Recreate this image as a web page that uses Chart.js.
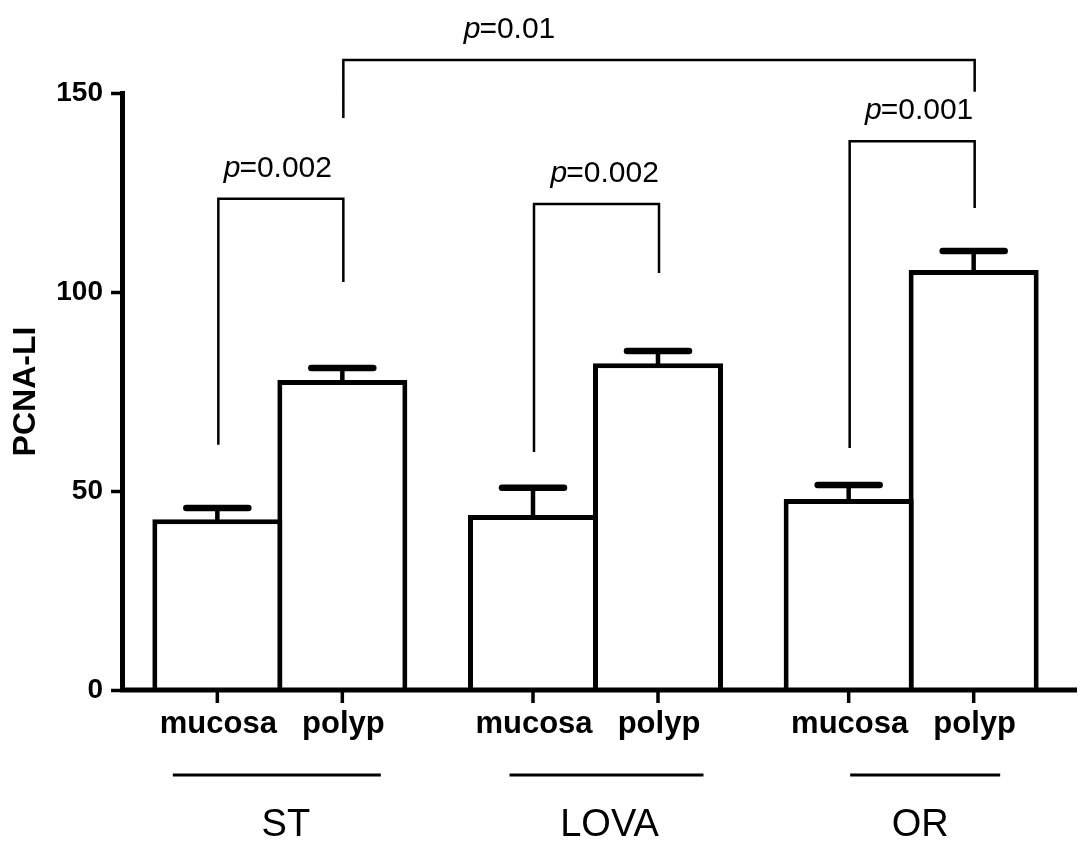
<!DOCTYPE html>
<html>
<head>
<meta charset="utf-8">
<title>PCNA-LI</title>
<script src="https://cdn.jsdelivr.net/npm/chart.js@4.4.1/dist/chart.umd.min.js"></script>
<style>
  html, body { margin: 0; padding: 0; background: #fff; }
  canvas { display: block; }
</style>
</head>
<body>
<canvas id="pcnaChart" width="1087" height="850"></canvas>
<script>
// groups on the x axis, two tissues per group
const groups = ['ST', 'LOVA', 'OR'];
const tissues = ['mucosa', 'polyp'];

// mean PCNA labelling index and its SEM
const mucosaMean = [42.9, 44.0, 48.0];
const polypMean = [77.9, 82.1, 105.5];
const mucosaSem = [2.8, 6.8, 3.5];
const polypSem = [3.0, 3.1, 4.8];

const yTicks = [0, 50, 100, 150];

// significance brackets: [dataset, group] for each end, heights in PCNA-LI units
const comparisons = [
    { from: [0, 0], to: [1, 0], top: 123.4, leftEnd: 61.6, rightEnd: 102.5, label: '0.002', at: 0.48 },
    { from: [0, 1], to: [1, 1], top: 122.1, leftEnd: 59.8, rightEnd: 104.8, label: '0.002', at: 0.57 },
    { from: [0, 2], to: [1, 2], top: 137.9, leftEnd: 60.8, rightEnd: 121.1, label: '0.001', at: 0.56 },
    { from: [1, 0], to: [1, 2], top: 158.3, leftEnd: 143.7, rightEnd: 150.3, label: '0.01', at: 0.264 }
];

const FONT = '"Liberation Sans", Arial, Helvetica, sans-serif';
// per-group rule half width and small horizontal nudges (style only)
const ruleHalf = [104, 97, 75];
const ruleShift = [-3, 11, 14];
const labelShift = [6, 14, 9];

function barAt(chart, ds, i) {
    return chart.getDatasetMeta(ds).data[i];
}

function line(ctx, x1, y1, x2, y2) {
    ctx.beginPath();
    ctx.moveTo(x1, y1);
    ctx.lineTo(x2, y2);
    ctx.stroke();
}

// SEM whiskers (upper only) on top of each bar
const errorBars = {
    id: 'errorBars',
    afterDatasetsDraw(chart) {
        const ctx = chart.ctx;
        const y = chart.scales.y;
        [mucosaSem, polypSem].forEach((sem, ds) => {
            chart.getDatasetMeta(ds).data.forEach((bar, i) => {
                const top = y.getPixelForValue(chart.data.datasets[ds].data[i] + sem[i]);
                ctx.save();
                ctx.strokeStyle = '#000';
                ctx.lineWidth = 4.5;
                line(ctx, bar.x, bar.y + 2, bar.x, top);
                ctx.lineWidth = 6.5;
                ctx.lineCap = 'round';
                line(ctx, bar.x - 31, top, bar.x + 31, top);
                ctx.restore();
            });
        });
    }
};

// x axis line, tick marks, tissue names, group rules and group names
const groupAxis = {
    id: 'groupAxis',
    afterDatasetsDraw(chart) {
        const ctx = chart.ctx;
        const area = chart.chartArea;
        const b = area.bottom;
        ctx.save();
        ctx.strokeStyle = '#000';
        ctx.fillStyle = '#000';
        ctx.lineWidth = 5;
        line(ctx, area.left - 2, b, area.right + 8, b);

        ctx.textAlign = 'center';
        ctx.textBaseline = 'alphabetic';
        groups.forEach((g, i) => {
            tissues.forEach((t, ds) => {
                const bar = barAt(chart, ds, i);
                ctx.lineWidth = 3.5;
                line(ctx, bar.x, b, bar.x, b + 13);
                ctx.font = 'bold 31px ' + FONT;
                ctx.fillText(t, bar.x + 1, b + 43);
            });
            const cx = (barAt(chart, 0, i).x + barAt(chart, 1, i).x) / 2;
            ctx.lineWidth = 3;
            const rc = cx + ruleShift[i];
            line(ctx, rc - ruleHalf[i], b + 85, rc + ruleHalf[i], b + 85);
            ctx.font = '38px ' + FONT;
            ctx.fillText(g, cx + labelShift[i], b + 146);
        });
        ctx.restore();
    }
};

// p-value brackets
const brackets = {
    id: 'brackets',
    afterDatasetsDraw(chart) {
        const ctx = chart.ctx;
        const y = chart.scales.y;
        ctx.save();
        ctx.strokeStyle = '#000';
        ctx.fillStyle = '#000';
        ctx.lineWidth = 2.5;
        comparisons.forEach(c => {
            const x1 = barAt(chart, c.from[0], c.from[1]).x + 1;
            const x2 = barAt(chart, c.to[0], c.to[1]).x + 1;
            const yt = y.getPixelForValue(c.top);
            ctx.beginPath();
            ctx.moveTo(x1, y.getPixelForValue(c.leftEnd));
            ctx.lineTo(x1, yt);
            ctx.lineTo(x2, yt);
            ctx.lineTo(x2, y.getPixelForValue(c.rightEnd));
            ctx.stroke();

            const italic = 'italic 30px ' + FONT;
            const plain = '30px ' + FONT;
            const rest = '=' + c.label;
            ctx.font = italic;
            const wp = ctx.measureText('p').width;
            ctx.font = plain;
            const wr = ctx.measureText(rest).width;
            const cx = x1 + (x2 - x1) * c.at;
            const left = cx - (wp + wr) / 2;
            const base = yt - 22;
            ctx.textAlign = 'left';
            ctx.textBaseline = 'alphabetic';
            ctx.font = italic;
            ctx.fillText('p', left, base);
            ctx.font = plain;
            ctx.fillText(rest, left + wp - 1, base);
        });
        ctx.restore();
    }
};

const ctx = document.getElementById('pcnaChart').getContext('2d');

new Chart(ctx, {
    type: 'bar',
    data: {
        labels: groups,
        datasets: [
            {
                label: tissues[0],
                data: mucosaMean,
                backgroundColor: '#fff',
                borderColor: '#000',
                borderWidth: 5
            },
            {
                label: tissues[1],
                data: polypMean,
                backgroundColor: '#fff',
                borderColor: '#000',
                borderWidth: 5
            }
        ]
    },
    options: {
        responsive: false,
        animation: false,
        layout: { padding: { top: 93, right: 18, bottom: 160, left: 0 } },
        datasets: {
            // slight overlap so the shared wall of a pair is one line
            bar: { categoryPercentage: 0.792, barPercentage: 1.04 }
        },
        plugins: {
            legend: { display: false },
            tooltip: { enabled: false }
        },
        scales: {
            x: { display: false },
            y: {
                min: 0,
                max: 150,
                afterBuildTicks: s => { s.ticks = yTicks.map(v => ({ value: v })); },
                afterFit: s => { s.width = 122; },
                ticks: {
                    color: '#000',
                    padding: 8,
                    font: { family: FONT, size: 28, weight: 'bold' }
                },
                grid: {
                    drawOnChartArea: false,
                    drawTicks: true,
                    tickLength: 11,
                    tickWidth: 3.5,
                    color: '#000'
                },
                border: { color: '#000', width: 5 },
                title: {
                    display: true,
                    text: 'PCNA-LI',
                    color: '#000',
                    padding: { top: 7, bottom: 0 },
                    font: { family: FONT, size: 32, weight: 'bold' }
                }
            }
        }
    },
    plugins: [errorBars, groupAxis, brackets]
});
</script>
</body>
</html>
